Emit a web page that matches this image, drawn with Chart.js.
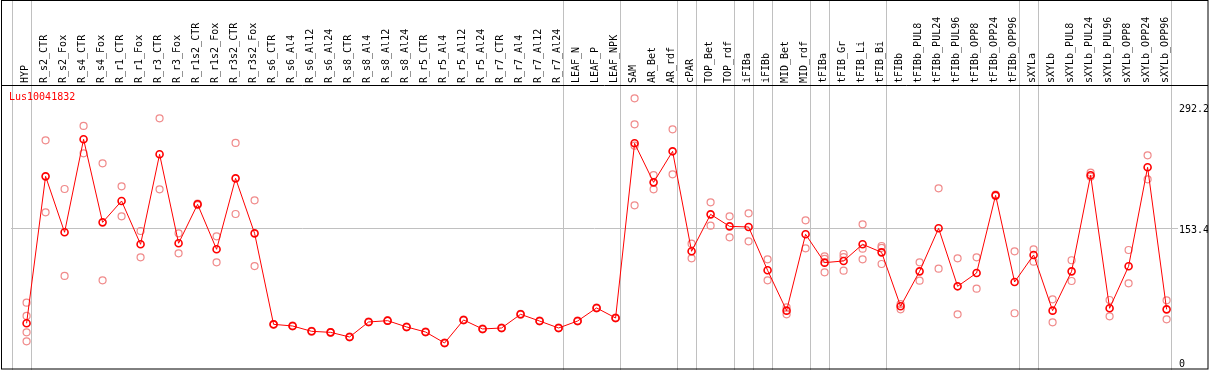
<!DOCTYPE html>
<html>
<head>
<meta charset="utf-8">
<title>Lus10041832</title>
<script src="https://cdn.jsdelivr.net/npm/chart.js@4.4.1/dist/chart.umd.min.js"></script>
<style>
    html, body { margin: 0; padding: 0; background: #fff; }
    #wrap { width: 1209px; height: 370px; position: relative; }
</style>
</head>
<body>
<div id="wrap"><canvas id="chart"></canvas></div>
<script>
// ========================================
// DATA
// ========================================

const geneId = 'Lus10041832';

const categories = [
    'HYP', 'R_s2_CTR', 'R_s2_Fox', 'R_s4_CTR', 'R_s4_Fox', 'R_r1_CTR', 'R_r1_Fox',
    'R_r3_CTR', 'R_r3_Fox', 'R_r1s2_CTR', 'R_r1s2_Fox', 'R_r3s2_CTR', 'R_r3s2_Fox',
    'R_s6_CTR', 'R_s6_Al4', 'R_s6_Al12', 'R_s6_Al24', 'R_s8_CTR', 'R_s8_Al4', 'R_s8_Al12',
    'R_s8_Al24', 'R_r5_CTR', 'R_r5_Al4', 'R_r5_Al12', 'R_r5_Al24', 'R_r7_CTR', 'R_r7_Al4',
    'R_r7_Al12', 'R_r7_Al24', 'LEAF_N', 'LEAF_P', 'LEAF_NPK', 'SAM', 'AR_Bet', 'AR_rdf',
    'cPAR', 'TOP_Bet', 'TOP_rdf', 'iFIBa', 'iFIBb', 'MID_Bet', 'MID_rdf', 'tFIBa',
    'tFIB_Gr', 'tFIB_Li', 'tFIB_Bi', 'tFIBb', 'tFIBb_PUL8', 'tFIBb_PUL24', 'tFIBb_PUL96',
    'tFIBb_OPP8', 'tFIBb_OPP24', 'tFIBb_OPP96', 'sXYLa', 'sXYLb', 'sXYLb_PUL8',
    'sXYLb_PUL24', 'sXYLb_PUL96', 'sXYLb_OPP8', 'sXYLb_OPP24', 'sXYLb_OPP96'
];

// last sample of each tissue group (a separator follows it)
const groupLast = [
    'HYP', 'R_r7_Al24', 'LEAF_NPK', 'AR_rdf', 'cPAR', 'TOP_rdf', 'iFIBa', 'iFIBb',
    'MID_rdf', 'tFIBa', 'tFIB_Bi', 'tFIBb_OPP96', 'sXYLa', 'sXYLb_OPP96'
];

const means = [
    44.4, 213.0, 148.8, 255.5, 160.2, 184.7, 135.0,
    238.3, 136.2, 180.9, 129.3, 210.7, 147.6,
    43.2, 41.3, 35.2, 34.0, 28.7, 45.9, 47.4,
    40.2, 34.4, 21.8, 48.2, 37.9, 39.0, 54.7,
    47.0, 39.0, 47.0, 62.0, 50.5, 250.9, 206.1, 241.7,
    127.0, 169.4, 155.6, 154.9, 105.2, 58.9, 146.5, 114.0,
    115.9, 135.0, 125.8, 63.9, 104.0, 153.4, 86.8,
    102.1, 191.2, 91.8, 122.8, 58.9, 104.0,
    214.2, 61.6, 109.8, 223.4, 60.4
];

const replicates = [
    [68.1, 52.8, 34.0, 23.7],   // HYP
    [254.3, 171.7],             // R_s2_CTR
    [198.5, 98.7],              // R_s2_Fox
    [270.8, 239.4],             // R_s4_CTR
    [227.9, 93.7],              // R_s4_Fox
    [201.5, 167.1],             // R_r1_CTR
    [150.3, 120.1],             // R_r1_Fox
    [279.6, 198.1],             // R_r3_CTR
    [147.6, 124.7],             // R_r3_Fox
    [181.8, 180.0],             // R_r1s2_CTR
    [144.2, 114.4],             // R_r1s2_Fox
    [251.3, 169.8],             // R_r3s2_CTR
    [185.5, 110.1],             // R_r3s2_Fox
    [43.6, 42.8],               // R_s6_CTR
    [41.7, 40.9],               // R_s6_Al4
    [35.6, 34.8],               // R_s6_Al12
    [34.4, 33.6],               // R_s6_Al24
    [29.1, 28.3],               // R_s8_CTR
    [46.3, 45.5],               // R_s8_Al4
    [47.8, 47.0],               // R_s8_Al12
    [40.6, 39.8],               // R_s8_Al24
    [34.8, 34.0],               // R_r5_CTR
    [22.2, 21.4],               // R_r5_Al4
    [48.6, 47.8],               // R_r5_Al12
    [38.3, 37.5],               // R_r5_Al24
    [39.4, 38.6],               // R_r7_CTR
    [55.1, 54.3],               // R_r7_Al4
    [47.4, 46.6],               // R_r7_Al12
    [39.4, 38.6],               // R_r7_Al24
    [47.4, 46.6],               // LEAF_N
    [62.4, 61.6],               // LEAF_P
    [50.9, 50.1],               // LEAF_NPK
    [302.5, 272.7, 248.2, 179.7], // SAM
    [214.5, 198.1],             // AR_Bet
    [266.9, 215.3],             // AR_rdf
    [135.8, 118.9],             // cPAR
    [183.2, 156.4],             // TOP_Bet
    [167.1, 143.0],             // TOP_rdf
    [170.6, 138.4],             // iFIBa
    [117.8, 93.7],              // iFIBb
    [62.7, 54.7],               // MID_Bet
    [162.5, 130.4],             // MID_rdf
    [121.2, 118.2, 102.9],      // tFIBa
    [123.9, 120.4, 104.8],      // tFIB_Gr
    [158.0, 130.0, 117.8],      // tFIB_Li
    [133.1, 131.0, 112.4],      // tFIB_Bi
    [66.5, 60.4],               // tFIBb
    [114.4, 93.3],              // tFIBb_PUL8
    [199.2, 107.1],             // tFIBb_PUL24
    [118.9, 54.7],              // tFIBb_PUL96
    [120.1, 84.1],              // tFIBb_OPP8
    [192.0, 190.4],             // tFIBb_OPP24
    [127.0, 55.9],              // tFIBb_OPP96
    [129.3, 115.1],             // sXYLa
    [71.9, 45.5],               // sXYLb
    [116.7, 92.9],              // sXYLb_PUL8
    [217.2, 212.6],             // sXYLb_PUL24
    [71.1, 52.4],               // sXYLb_PUL96
    [128.5, 90.3],              // sXYLb_OPP8
    [237.1, 209.6],             // sXYLb_OPP24
    [70.7, 49.0]                // sXYLb_OPP96
];

const yTicks = [0, 153.4, 292.2];

// ========================================
// STYLE
// ========================================

const MONO = '"DejaVu Sans Mono", "Liberation Mono", monospace';
const GRID = '#c0c0c0';

// ========================================
// PLUGINS
// ========================================

const framePlugin = {
    id: 'frame',
    beforeDatasetsDraw(chart) {
        const ctx = chart.ctx;
        const x = chart.scales.x;
        const ends = [-1].concat(groupLast.map(name => categories.indexOf(name)));
        ctx.save();
        ctx.strokeStyle = GRID;
        ctx.lineWidth = 1;
        ends.forEach(i => {
            const px = Math.round(x.getPixelForValue(i + 0.22)) + 0.5;
            ctx.beginPath();
            ctx.moveTo(px, 0);
            ctx.lineTo(px, chart.height);
            ctx.stroke();
        });
        ctx.restore();
    },
    afterDraw(chart) {
        const ctx = chart.ctx;
        const area = chart.chartArea;
        ctx.save();
        ctx.strokeStyle = '#000';
        ctx.lineWidth = 1;
        ctx.strokeRect(1.5, 0.5, chart.width - 2.5, chart.height - 1.5);
        ctx.beginPath();
        ctx.moveTo(1, Math.round(area.top) + 0.5);
        ctx.lineTo(chart.width - 1, Math.round(area.top) + 0.5);
        ctx.stroke();

        // gene name
        ctx.fillStyle = '#ff0000';
        ctx.font = '10px ' + MONO;
        ctx.textAlign = 'left';
        ctx.textBaseline = 'middle';
        ctx.fillText(geneId, area.left - 2, area.top + 12);
        ctx.restore();
    }
};

// ========================================
// CHART
// ========================================

const meanPoints = categories.map((c, i) => ({ x: i, y: means[i] }));
const repPoints = [];
replicates.forEach((reps, i) => reps.forEach(v => repPoints.push({ x: i, y: v })));

new Chart(document.getElementById('chart'), {
    type: 'line',
    data: {
        datasets: [
            {
                label: 'mean',
                data: meanPoints,
                borderColor: '#ff0000',
                borderWidth: 1,
                tension: 0,
                pointRadius: 3.5,
                pointBorderWidth: 1.6,
                pointBorderColor: '#ff0000',
                pointBackgroundColor: 'rgba(0,0,0,0)'
            },
            {
                label: 'replicates',
                data: repPoints,
                showLine: false,
                pointRadius: 3.5,
                pointBorderWidth: 1.2,
                pointBorderColor: '#f08a8a',
                pointBackgroundColor: 'rgba(0,0,0,0)'
            }
        ]
    },
    options: {
        responsive: true,
        maintainAspectRatio: false,
        animation: false,
        layout: {
            autoPadding: false,
            padding: { left: 11, right: 1, top: 0, bottom: 2 }
        },
        plugins: {
            legend: { display: false },
            tooltip: { enabled: false }
        },
        scales: {
            x: {
                type: 'linear',
                position: 'top',
                min: -0.82,
                max: 60.6,
                grid: { display: false, drawTicks: false },
                border: { display: false },
                afterBuildTicks: scale => {
                    scale.ticks = categories.map((c, i) => ({ value: i }));
                },
                afterFit: scale => {
                    scale.height = 85;
                    scale.paddingLeft = 0;
                    scale.paddingRight = 0;
                },
                ticks: {
                    autoSkip: false,
                    minRotation: 90,
                    maxRotation: 90,
                    padding: 2,
                    labelOffset: 11,
                    color: '#000',
                    font: { family: MONO, size: 10 },
                    callback: (value, index) => categories[index]
                }
            },
            y: {
                type: 'linear',
                position: 'right',
                min: -6.9,
                max: 317.8,
                border: { display: false },
                grid: {
                    drawTicks: false,
                    color: c => (c.tick && c.tick.value === 153.4 ? GRID : 'rgba(0,0,0,0)')
                },
                afterBuildTicks: scale => {
                    scale.ticks = yTicks.map(v => ({ value: v }));
                },
                afterFit: scale => {
                    scale.width = 30;
                    scale.paddingTop = 0;
                    scale.paddingBottom = 0;
                },
                ticks: {
                    padding: 1,
                    labelOffset: 2,
                    color: '#000',
                    font: { family: MONO, size: 10, lineHeight: 0.2 },
                    callback: value => String(value)
                }
            }
        }
    },
    plugins: [framePlugin]
});
</script>
</body>
</html>
